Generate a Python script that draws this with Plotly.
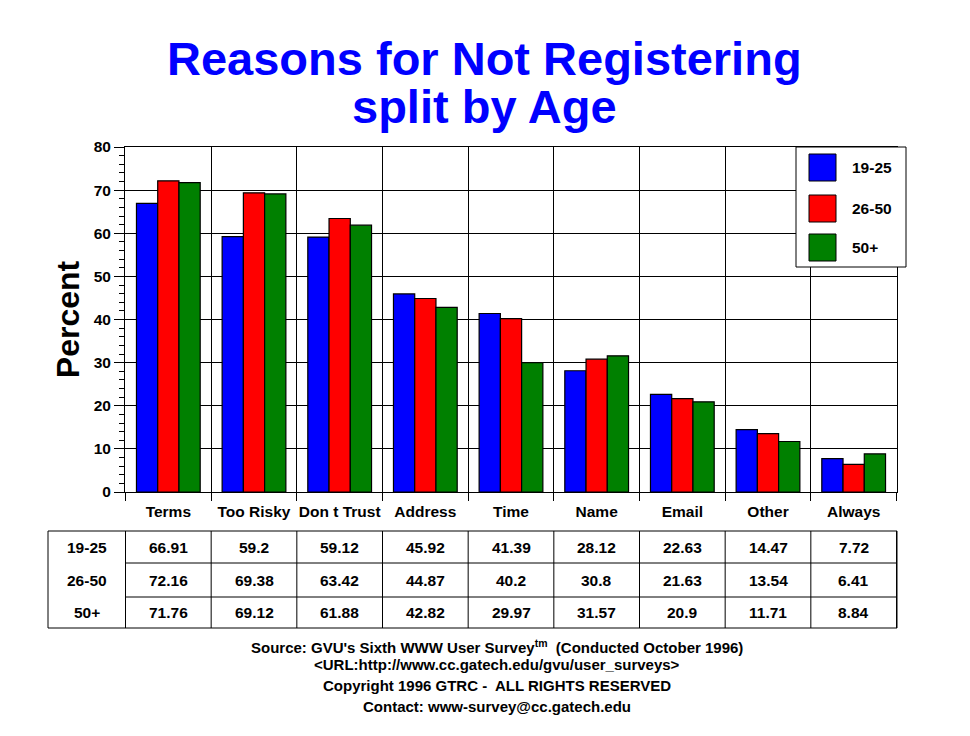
import plotly.graph_objects as go

# data
categories = ["Terms", "Too Risky", "Don t Trust", "Address", "Time",
              "Name", "Email", "Other", "Always"]
groups = ["19-25", "26-50", "50+"]
age_19_25 = [66.91, 59.2, 59.12, 45.92, 41.39, 28.12, 22.63, 14.47, 7.72]
age_26_50 = [72.16, 69.38, 63.42, 44.87, 40.2, 30.8, 21.63, 13.54, 6.41]
age_50_up = [71.76, 69.12, 61.88, 42.82, 29.97, 31.57, 20.9, 11.71, 8.84]
series = [age_19_25, age_26_50, age_50_up]
colors = ["#0000FF", "#FF0000", "#008000"]

W, H = 970, 736
ML, MR, MT, MB = 125, 73, 147, 244
PW = W - ML - MR
PH = H - MT - MB
FONT = "Liberation Sans, Arial, sans-serif"
TXT = dict(size=15.5, color="black")


def px_x(x):
    return (x - ML) / PW


def px_y(y):
    return (H - MB - y) / PH


def label(text, x, y, xref="paper", xanchor="center", font=TXT):
    return dict(x=x, y=y, xref=xref, yref="paper", text=text, showarrow=False,
                xanchor=xanchor, yanchor="middle", font=font)


fig = go.Figure()
for name, vals, col in zip(groups, series, colors):
    fig.add_trace(go.Bar(x=categories, y=vals, name=name,
                         marker=dict(color=col, line=dict(color="black", width=1.2))))

shapes = []
annotations = []

# title, two lines set close together like the original
title_font = dict(size=47, color="#0000FF", family=FONT)
annotations.append(label("<b>Reasons for Not Registering</b>", px_x(484), px_y(58), font=title_font))
annotations.append(label("<b>split by Age</b>", px_x(484), px_y(106), font=title_font))

# data table under the chart
row_y = [(531 + 563) / 2, (563 + 597) / 2, (597 + 628) / 2]
for r, (name, vals) in enumerate(zip(groups, series)):
    annotations.append(label("<b>%s</b>" % name, px_x(86.5), px_y(row_y[r])))
    for cat, v in zip(categories, vals):
        annotations.append(label("<b>%s</b>" % v, cat, px_y(row_y[r]), xref="x"))

line = dict(color="black", width=1)
shapes.append(dict(type="rect", xref="paper", yref="paper",
                   x0=px_x(48), x1=1, y0=px_y(531), y1=px_y(628), line=line))
for i in range(len(categories) + 1):
    shapes.append(dict(type="line", xref="x", yref="paper", x0=i - 0.5, x1=i - 0.5,
                       y0=px_y(531), y1=px_y(628), line=line))
for yy in [563, 597]:
    shapes.append(dict(type="line", xref="paper", yref="paper", x0=0, x1=1,
                       y0=px_y(yy), y1=px_y(yy), line=line))

# legend box drawn by hand
shapes.append(dict(type="rect", xref="paper", yref="paper", x0=px_x(796), x1=px_x(906),
                   y0=px_y(147), y1=px_y(267), fillcolor="white", line=line, layer="above"))
sw_top = [154, 195, 234]
for name, col, t in zip(groups, colors, sw_top):
    shapes.append(dict(type="rect", xref="paper", yref="paper", x0=px_x(809), x1=px_x(836),
                       y0=px_y(t), y1=px_y(t + 27), fillcolor=col, line=line, layer="above"))
    annotations.append(label("<b>%s</b>" % name, px_x(850), px_y(t + 13.5), xanchor="left"))

# footer
foot_font = dict(size=15, color="black")
footer = [
    ("Source: GVU's Sixth WWW User Survey<sup>tm</sup>  (Conducted October 1996)", 646),
    ("&lt;URL:http://www.cc.gatech.edu/gvu/user_surveys&gt;", 664),
    ("Copyright 1996 GTRC -  ALL RIGHTS RESERVED", 685),
    ("Contact: www-survey@cc.gatech.edu", 706),
]
for txt, yy in footer:
    annotations.append(label("<b>%s</b>" % txt, px_x(497), px_y(yy), font=foot_font))

fig.update_layout(
    width=W, height=H,
    margin=dict(l=ML, r=MR, t=MT, b=MB),
    paper_bgcolor="white", plot_bgcolor="white",
    font=dict(family=FONT, color="black", size=15.5),
    barmode="group", bargap=0.256, bargroupgap=0,
    showlegend=False,
    shapes=shapes, annotations=annotations,
    xaxis=dict(type="category", tickson="boundaries", ticks="outside", ticklen=8,
               tickcolor="black", showgrid=True, gridcolor="black", gridwidth=1,
               showline=True, linecolor="black", mirror=True, tickangle=0,
               ticklabelstandoff=5,
               tickprefix="<b>", ticksuffix="</b>",
               tickfont=TXT),
    yaxis=dict(range=[0, 80], dtick=10, ticks="outside", ticklen=10, tickcolor="black",
               showgrid=True, gridcolor="black", gridwidth=1, zeroline=False,
               showline=True, linecolor="black", mirror=True,
               minor=dict(dtick=2, ticks="outside", ticklen=5, tickcolor="black", showgrid=False),
               tickprefix="<b>", ticksuffix="</b>",
               tickfont=TXT,
               title=dict(text="<b>Percent</b>", font=dict(size=32, color="black"), standoff=4)),
)

fig.write_html("out.html", config={"displayModeBar": False},
               post_script="document.body.style.margin='0';")
